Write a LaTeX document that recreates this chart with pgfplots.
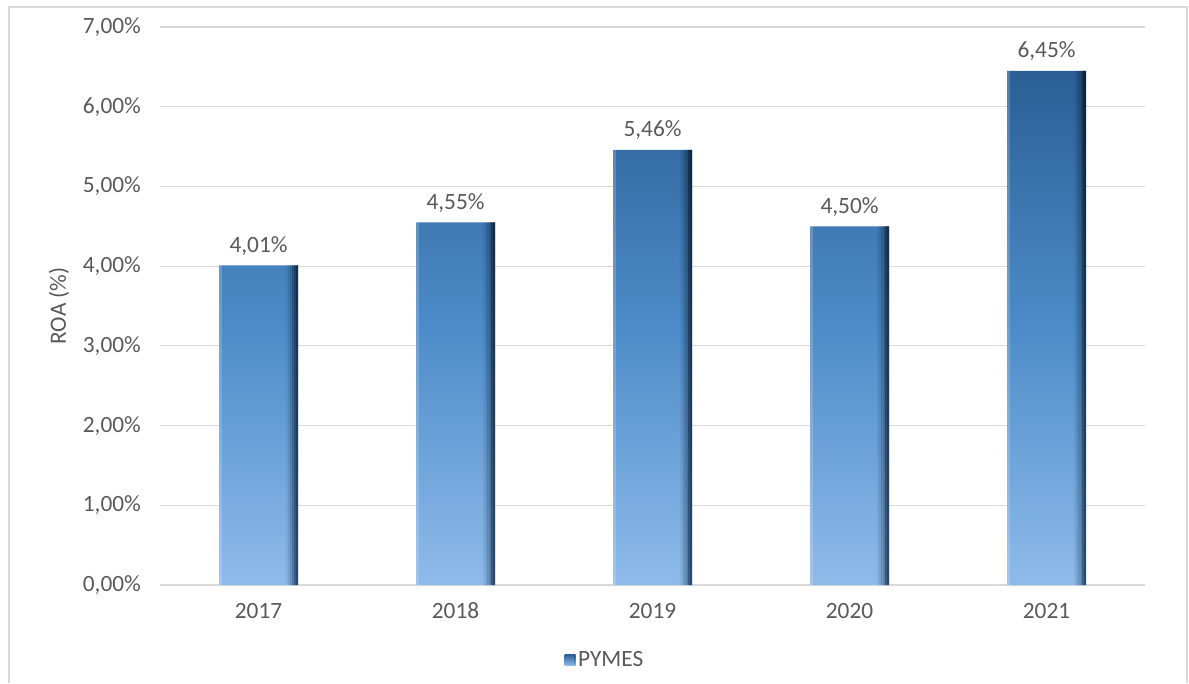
\documentclass[border=0pt]{standalone}
\usepackage{fontspec}
\setmainfont{Carlito}
\usepackage{pgfplots}
\pgfplotsset{compat=1.18}

\definecolor{txt}{HTML}{595959}
\definecolor{grd}{HTML}{D9D9D9}
\definecolor{bartop}{HTML}{2B5F95}
\definecolor{barmid}{HTML}{4D8CC9}
\definecolor{barbot}{HTML}{8FBBEA}
\definecolor{edgetop}{HTML}{0B1A2C}
\definecolor{edgebot}{HTML}{22405F}

\pgfplotstableread{
x v
0 4.01
1 4.55
2 5.46
3 4.50
4 6.45
}\roa

% right-hand bevel strip: shift and opacity
\pgfplotsset{edge/.style n args={2}{forget plot, draw=none, bar width=1.7pt,
  bar shift=#1pt, top color=edgetop, bottom color=edgebot, fill opacity=#2}}

\begin{document}
\begin{tikzpicture}[font=\fontsize{17.5}{20}\selectfont]
\path[use as bounding box] (0,0) rectangle (891.75pt,512.25pt);
\draw[grd, line width=0.9pt] (6.75pt,0) -- (6.75pt,507pt) -- (890.25pt,507pt) -- (890.25pt,0);
\begin{axis}[
  at={(120pt,73.5pt)}, anchor=south west,
  scale only axis, width=738.75pt, height=418.5pt,
  xmin=-0.5, xmax=4.5, ymin=0, ymax=7,
  axis x line*=bottom, axis y line*=left,
  y axis line style={draw=none}, x axis line style={grd, line width=0.9pt, -},
  xtick={0,...,4}, xticklabels={2017,2018,2019,2020,2021},
  ytick={0,...,7},
  yticklabels={{0,00\%},{1,00\%},{2,00\%},{3,00\%},{4,00\%},{5,00\%},{6,00\%},{7,00\%}},
  major tick length=0pt, tick style={draw=none},
  ymajorgrids, grid style={grd, line width=0.9pt},
  tick label style={text=txt},
  xticklabel style={yshift=-10pt},
  yticklabel style={xshift=-10.8pt},
  ylabel={ROA (\%)}, ylabel style={at={(axis description cs:-0.1025,0.5)}, anchor=center, text=txt},
  /pgf/number format/assume math mode=true,
  ybar,
  every node near coord/.append style={text=txt, yshift=4pt},
  legend style={at={(0.452,-0.134)}, anchor=center, draw=none, fill=none, text=txt},
  legend image code/.code={\fill[top color=bartop, bottom color=barbot] (0pt,-4.1pt) rectangle (8.2pt,4.1pt);\fill[edgetop, opacity=0.7] (6.8pt,-4.1pt) rectangle (8.2pt,4.1pt);},
]
% main bars, vertical gradient
\addplot[draw=none, bar width=59.25pt, bar shift=0pt,
  top color=bartop, bottom color=barbot, middle color=barmid,
  nodes near coords={\pgfmathprintnumber[fixed,fixed zerofill,precision=2,use comma]{\pgfplotspointmeta}\%}]
  table[x=x, y=v] {\roa};
\addlegendentry{PYMES}
% bevel: darkening towards the right edge
\addplot[edge={21.4}{0.08}] table[x=x, y=v] {\roa};
\addplot[edge={23.0}{0.18}] table[x=x, y=v] {\roa};
\addplot[edge={24.6}{0.32}] table[x=x, y=v] {\roa};
\addplot[edge={26.2}{0.5}] table[x=x, y=v] {\roa};
\addplot[edge={27.6}{0.7}] table[x=x, y=v] {\roa};
\addplot[edge={28.9}{0.9}] table[x=x, y=v] {\roa};
% light strip on the left side
\addplot[forget plot, draw=none, bar width=2.2pt, bar shift=-28.5pt,
  fill=white, fill opacity=0.18] table[x=x, y=v] {\roa};
\end{axis}
\end{tikzpicture}
\end{document}
